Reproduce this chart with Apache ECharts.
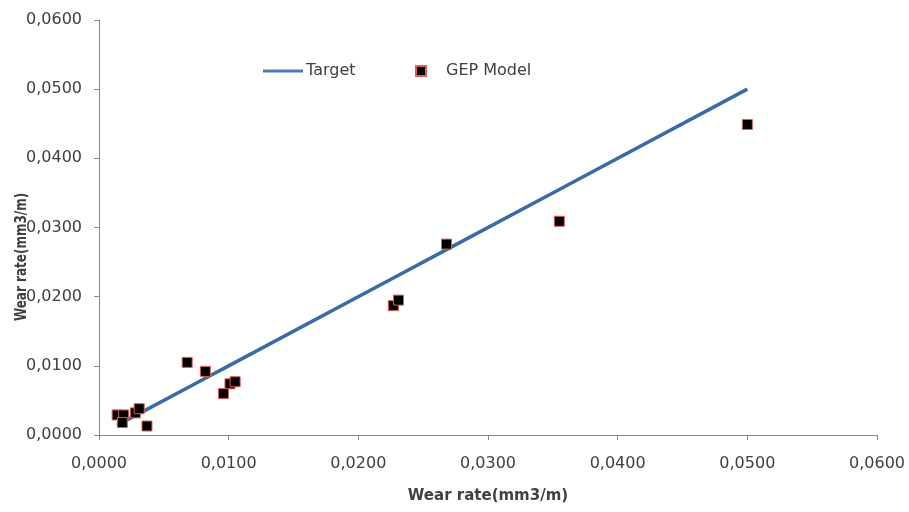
<!DOCTYPE html>
<html>
<head>
<meta charset="utf-8">
<script src="https://cdn.jsdelivr.net/npm/echarts@6/dist/echarts.min.js"></script>
<style>
  html, body { margin: 0; padding: 0; background: #fff; }
  #chart { width: 909px; height: 512px; }
</style>
</head>
<body>
<div id="chart"></div>
<script>
// Measured wear rate (experimental) and GEP model prediction, mm3/m
const measured = [0.0014, 0.0019, 0.0018, 0.0028, 0.0031, 0.0037, 0.0068, 0.0082,
                  0.0096, 0.0101, 0.0105, 0.0227, 0.0231, 0.0268, 0.0355, 0.0500];
const predicted = [0.0029, 0.0029, 0.0018, 0.0032, 0.0038, 0.0013, 0.0105, 0.0092,
                   0.0060, 0.0074, 0.0077, 0.0187, 0.0195, 0.0276, 0.0309, 0.0449];
const axisTicks = [0, 0.01, 0.02, 0.03, 0.04, 0.05, 0.06];
const axisTitle = 'Wear rate(mm3/m)';

const fmt = v => v.toFixed(4).replace('.', ',');
const FONT = 'DejaVu Sans';

// Target line: perfect prediction, y = x over the measured range
const targetPts = measured.slice().sort((a, b) => a - b).map(v => [v, v]);
const modelPts = measured.map((v, i) => [v, predicted[i]]);

const axisCommon = {
  type: 'value',
  min: axisTicks[0],
  max: axisTicks[axisTicks.length - 1],
  interval: axisTicks[1] - axisTicks[0],
  splitLine: { show: false },
  axisLine: { show: true, lineStyle: { color: '#868686', width: 1 } },
  axisTick: { show: true, length: 5, lineStyle: { color: '#868686' } },
  axisLabel: { formatter: fmt, color: '#404040', fontFamily: FONT, fontSize: 16 }
};

const chart = echarts.init(document.getElementById('chart'));
chart.setOption({
  animation: false,
  backgroundColor: '#ffffff',
  grid: { left: 99, right: 32, top: 20, bottom: 77, containLabel: false },
  xAxis: Object.assign({}, axisCommon, {
    axisLabel: Object.assign({}, axisCommon.axisLabel, { margin: 21 }),
    name: axisTitle,
    nameLocation: 'middle',
    nameGap: 54,
    nameTextStyle: { fontFamily: FONT, fontSize: 15, fontWeight: 'bold', color: '#404040' }
  }),
  yAxis: Object.assign({}, axisCommon, {
    axisLabel: Object.assign({}, axisCommon.axisLabel, { margin: 17 })
  }),
  graphic: [{
    type: 'text',
    x: 22, y: 257,
    rotation: Math.PI / 2,
    scaleY: 1.35,
    style: {
      text: axisTitle,
      fill: '#404040',
      font: 'bold 12px "' + FONT + '"',
      align: 'center',
      verticalAlign: 'middle'
    },
    z: 10
  }],
  legend: [{
    data: [{ name: 'Target', icon: 'rect' }],
    left: 258, top: 58,
    itemWidth: 40, itemHeight: 3,
    textStyle: { fontFamily: FONT, fontSize: 16, color: '#404040', padding: [0, 0, 0, -2] }
  }, {
    data: [{ name: 'GEP Model', icon: 'rect' }],
    left: 410, top: 58,
    itemWidth: 10, itemHeight: 10,
    textStyle: { fontFamily: FONT, fontSize: 16, color: '#404040', padding: [0, 0, 0, 15] }
  }],
  series: [{
    name: 'Target',
    type: 'line',
    data: targetPts,
    symbol: 'none',
    lineStyle: { color: '#3B6BA5', width: 3.5 },
    itemStyle: { color: '#4A7EBB' },
    z: 2
  }, {
    name: 'GEP Model',
    type: 'scatter',
    data: modelPts,
    symbol: 'rect',
    symbolSize: 10,
    itemStyle: { color: '#000000', borderColor: '#D9605A', borderWidth: 1, opacity: 1 },
    z: 3
  }]
});
</script>
</body>
</html>
